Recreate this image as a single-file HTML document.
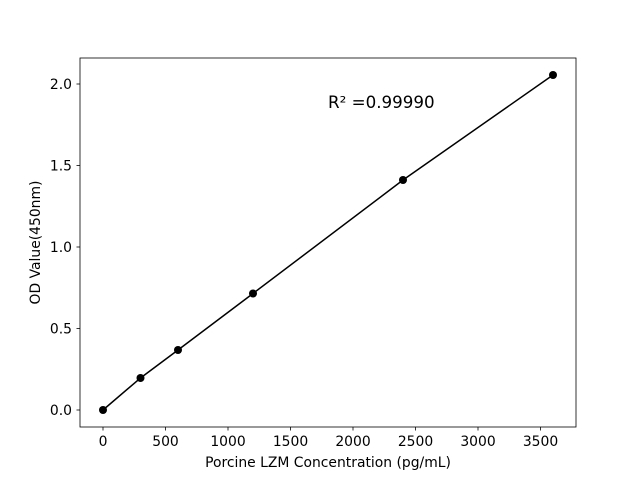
<!DOCTYPE html>
<html><head><meta charset="utf-8"><style>body{margin:0;background:#fff}</style></head><body>
<svg width="640" height="480" xmlns="http://www.w3.org/2000/svg" font-family="DejaVu Sans, Liberation Sans, sans-serif">
<rect width="640" height="480" fill="#fff"/>
<rect x="80" y="58" width="496" height="369" fill="none" stroke="#000" stroke-width="0.8"/>
<g stroke="#000" stroke-width="0.8">
<line x1="103" y1="427" x2="103" y2="430.5"/><line x1="165.5" y1="427" x2="165.5" y2="430.5"/><line x1="228" y1="427" x2="228" y2="430.5"/><line x1="290.5" y1="427" x2="290.5" y2="430.5"/><line x1="353" y1="427" x2="353" y2="430.5"/><line x1="415.5" y1="427" x2="415.5" y2="430.5"/><line x1="478" y1="427" x2="478" y2="430.5"/><line x1="540.5" y1="427" x2="540.5" y2="430.5"/>
<line x1="76.5" y1="410" x2="80" y2="410"/><line x1="76.5" y1="328.5" x2="80" y2="328.5"/><line x1="76.5" y1="247" x2="80" y2="247"/><line x1="76.5" y1="165.5" x2="80" y2="165.5"/><line x1="76.5" y1="84" x2="80" y2="84"/>
</g>
<g font-size="13.9" text-anchor="middle" fill="#000">
<text x="103" y="446">0</text><text x="165.5" y="446">500</text><text x="228" y="446">1000</text><text x="290.5" y="446">1500</text><text x="353" y="446">2000</text><text x="415.5" y="446">2500</text><text x="478" y="446">3000</text><text x="540.5" y="446">3500</text>
</g>
<g font-size="13.9" text-anchor="end" fill="#000">
<text x="72" y="415">0.0</text><text x="72" y="333.5">0.5</text><text x="72" y="252">1.0</text><text x="72" y="170.5">1.5</text><text x="72" y="89">2.0</text>
</g>
<text x="328" y="467" font-size="13.9" text-anchor="middle">Porcine LZM Concentration (pg/mL)</text>
<text transform="translate(40,242.5) rotate(-90)" font-size="13.9" text-anchor="middle">OD Value(450nm)</text>
<text x="328" y="108" font-size="16.7">R² =0.99990</text>
<polyline points="103,410 140.5,378 178,350 253,293.5 403,180 553,75" fill="none" stroke="#000" stroke-width="1.5"/>
<g fill="#000"><circle cx="103" cy="410" r="4"/><circle cx="140.5" cy="378" r="4"/><circle cx="178" cy="350" r="4"/><circle cx="253" cy="293.5" r="4"/><circle cx="403" cy="180" r="4"/><circle cx="553" cy="75" r="4"/></g>
</svg>
</body></html>
